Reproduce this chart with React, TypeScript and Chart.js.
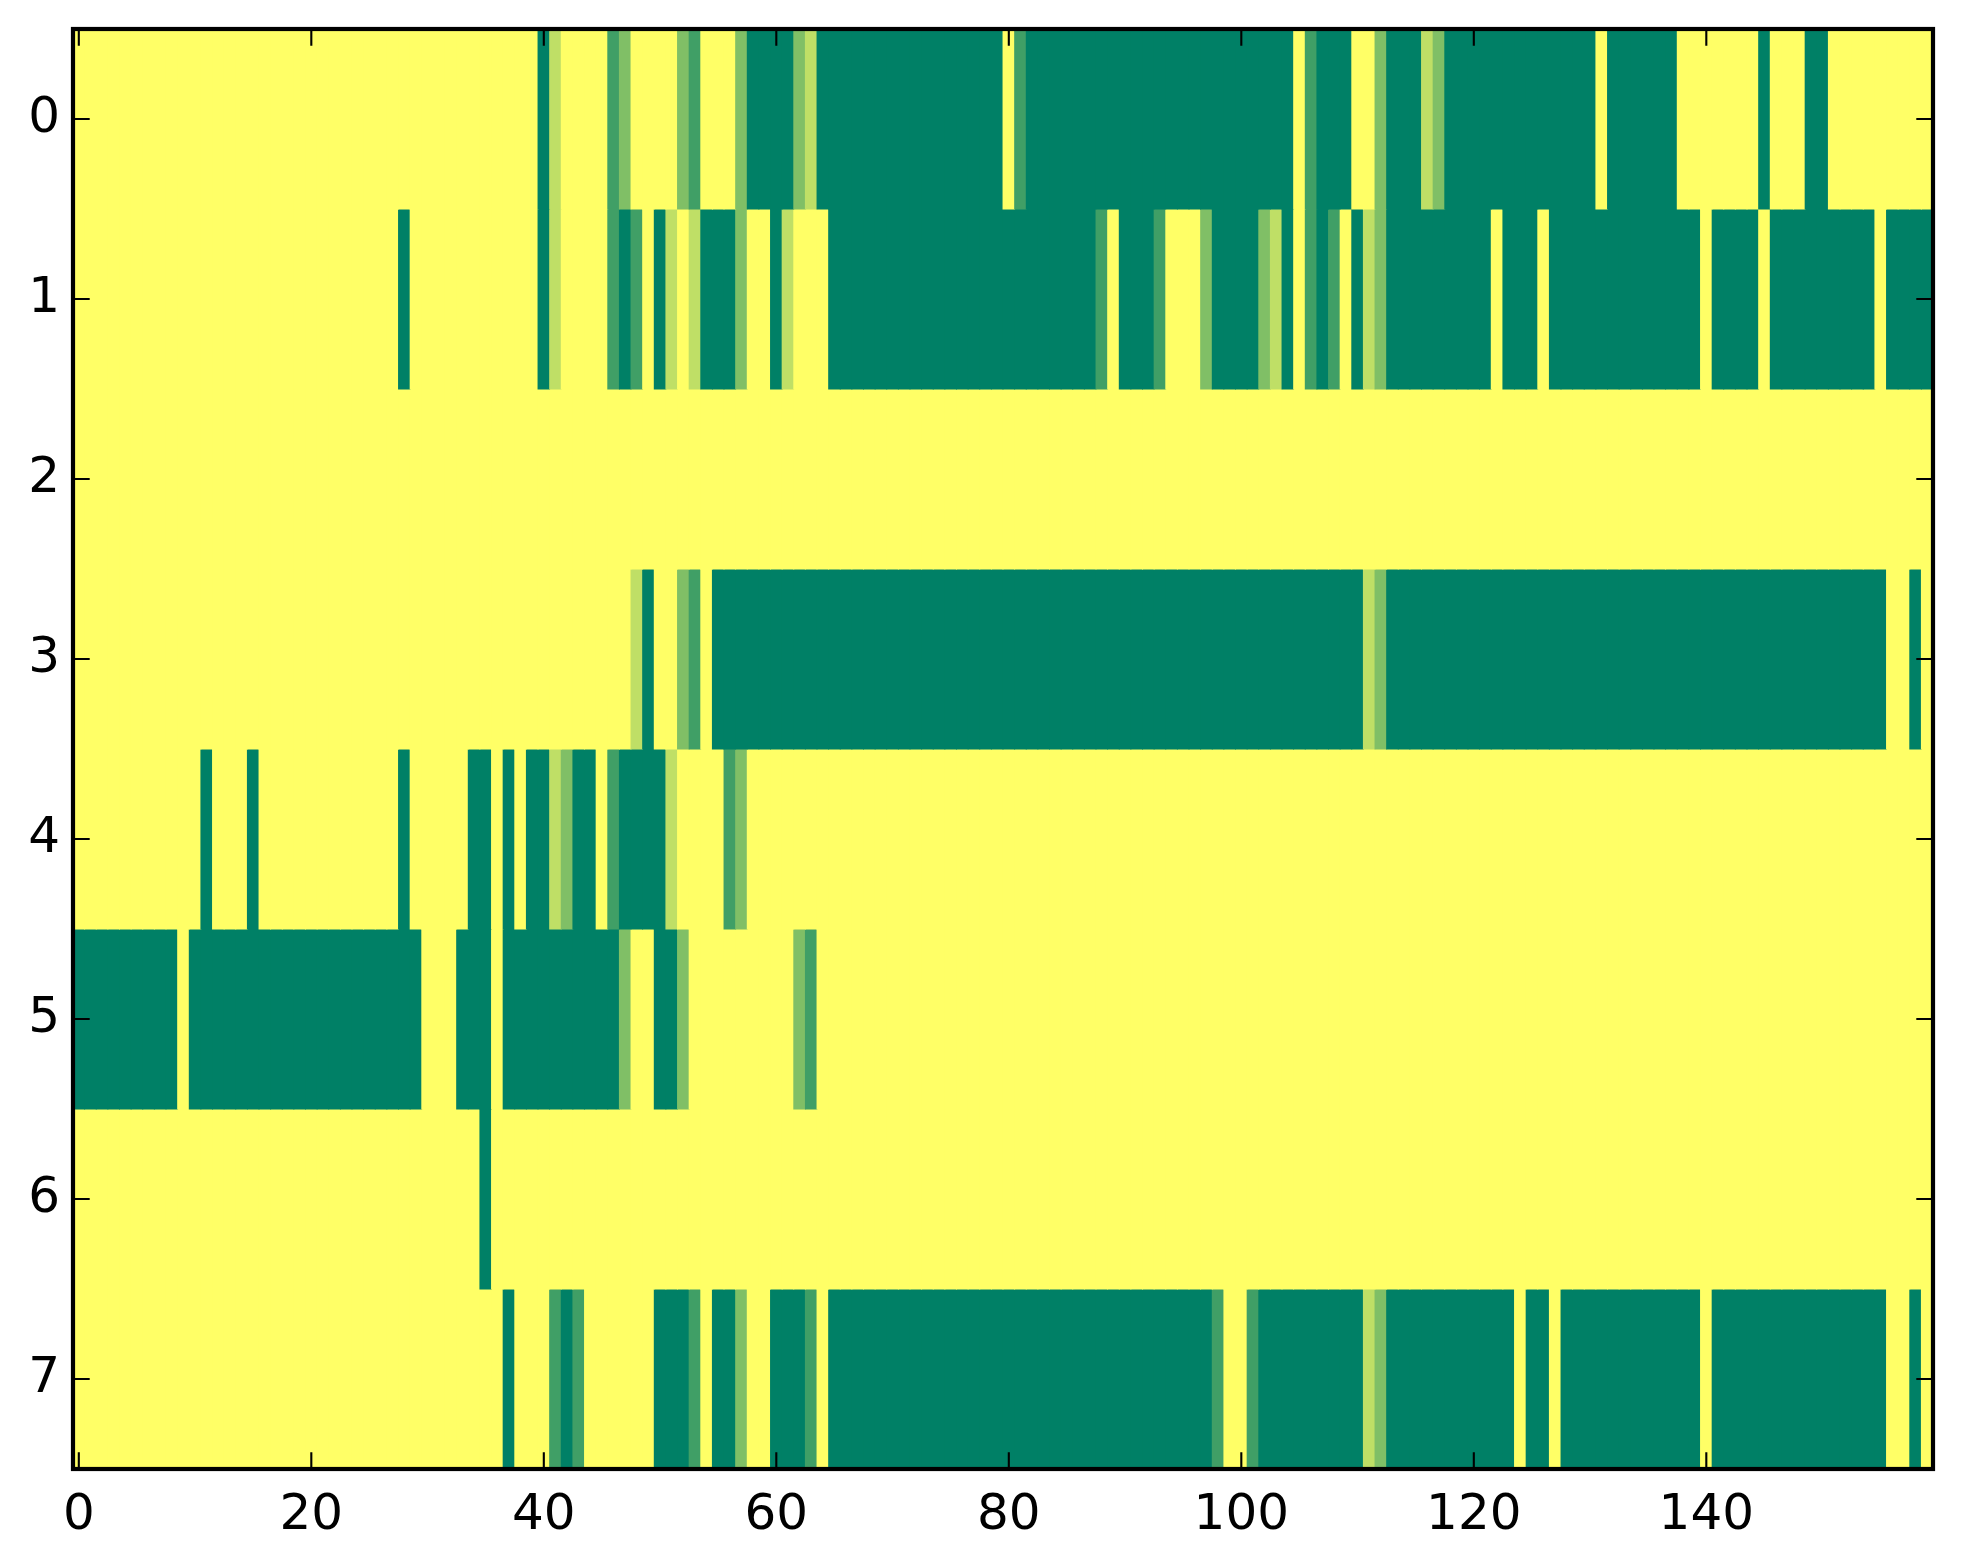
import { useEffect, useRef } from 'react';
import { Chart, registerables } from 'chart.js';

Chart.register(...registerables);

// Row labels (y axis) and x tick values
const Y_LABELS = ['0', '1', '2', '3', '4', '5', '6', '7'];
const X_TICKS = [0, 20, 40, 60, 80, 100, 120, 140];

// Cell values per row (160 columns each), colour-mapped with matplotlib "summer"
const ROW_0 = [
  1, 1, 1, 1, 1, 1, 1, 1, 1, 1, 1, 1, 1, 1, 1, 1, 1, 1, 1, 1,
  1, 1, 1, 1, 1, 1, 1, 1, 1, 1, 1, 1, 1, 1, 1, 1, 1, 1, 1, 1,
  0, .75, 1, 1, 1, 1, .25, .5, 1, 1, 1, 1, .5, .25, 1, 1, 1, .5, 0, 0,
  0, 0, .5, .75, 0, 0, 0, 0, 0, 0, 0, 0, 0, 0, 0, 0, 0, 0, 0, 0,
  1, .25, 0, 0, 0, 0, 0, 0, 0, 0, 0, 0, 0, 0, 0, 0, 0, 0, 0, 0,
  0, 0, 0, 0, 0, 1, .25, 0, 0, 0, 1, 1, .5, 0, 0, 0, .75, .5, 0, 0,
  0, 0, 0, 0, 0, 0, 0, 0, 0, 0, 0, 1, 0, 0, 0, 0, 0, 0, 1, 1,
  1, 1, 1, 1, 1, 0, 1, 1, 1, 0, 0, 1, 1, 1, 1, 1, 1, 1, 1, 1,
];
const ROW_1 = [
  1, 1, 1, 1, 1, 1, 1, 1, 1, 1, 1, 1, 1, 1, 1, 1, 1, 1, 1, 1,
  1, 1, 1, 1, 1, 1, 1, 1, 0, 1, 1, 1, 1, 1, 1, 1, 1, 1, 1, 1,
  0, .75, 1, 1, 1, 1, .25, 0, .25, 1, 0, .75, 1, .75, 0, 0, 0, .5, 1, 1,
  0, .75, 1, 1, 1, 0, 0, 0, 0, 0, 0, 0, 0, 0, 0, 0, 0, 0, 0, 0,
  0, 0, 0, 0, 0, 0, 0, 0, .25, 1, 0, 0, 0, .25, 1, 1, 1, .5, 0, 0,
  0, 0, .5, .75, 0, 1, .25, 0, .25, 1, 0, .75, .5, 0, 0, 0, 0, 0, 0, 0,
  0, 0, 1, 0, 0, 0, 1, 0, 0, 0, 0, 0, 0, 0, 0, 0, 0, 0, 0, 0,
  1, 0, 0, 0, 0, 1, 0, 0, 0, 0, 0, 0, 0, 0, 0, 1, 0, 0, 0, 0,
];
const ROW_2 = [
  1, 1, 1, 1, 1, 1, 1, 1, 1, 1, 1, 1, 1, 1, 1, 1, 1, 1, 1, 1,
  1, 1, 1, 1, 1, 1, 1, 1, 1, 1, 1, 1, 1, 1, 1, 1, 1, 1, 1, 1,
  1, 1, 1, 1, 1, 1, 1, 1, 1, 1, 1, 1, 1, 1, 1, 1, 1, 1, 1, 1,
  1, 1, 1, 1, 1, 1, 1, 1, 1, 1, 1, 1, 1, 1, 1, 1, 1, 1, 1, 1,
  1, 1, 1, 1, 1, 1, 1, 1, 1, 1, 1, 1, 1, 1, 1, 1, 1, 1, 1, 1,
  1, 1, 1, 1, 1, 1, 1, 1, 1, 1, 1, 1, 1, 1, 1, 1, 1, 1, 1, 1,
  1, 1, 1, 1, 1, 1, 1, 1, 1, 1, 1, 1, 1, 1, 1, 1, 1, 1, 1, 1,
  1, 1, 1, 1, 1, 1, 1, 1, 1, 1, 1, 1, 1, 1, 1, 1, 1, 1, 1, 1,
];
const ROW_3 = [
  1, 1, 1, 1, 1, 1, 1, 1, 1, 1, 1, 1, 1, 1, 1, 1, 1, 1, 1, 1,
  1, 1, 1, 1, 1, 1, 1, 1, 1, 1, 1, 1, 1, 1, 1, 1, 1, 1, 1, 1,
  1, 1, 1, 1, 1, 1, 1, 1, .75, 0, 1, 1, .5, .25, 1, 0, 0, 0, 0, 0,
  0, 0, 0, 0, 0, 0, 0, 0, 0, 0, 0, 0, 0, 0, 0, 0, 0, 0, 0, 0,
  0, 0, 0, 0, 0, 0, 0, 0, 0, 0, 0, 0, 0, 0, 0, 0, 0, 0, 0, 0,
  0, 0, 0, 0, 0, 0, 0, 0, 0, 0, 0, .75, .5, 0, 0, 0, 0, 0, 0, 0,
  0, 0, 0, 0, 0, 0, 0, 0, 0, 0, 0, 0, 0, 0, 0, 0, 0, 0, 0, 0,
  0, 0, 0, 0, 0, 0, 0, 0, 0, 0, 0, 0, 0, 0, 0, 0, 1, 1, 0, 1,
];
const ROW_4 = [
  1, 1, 1, 1, 1, 1, 1, 1, 1, 1, 1, 0, 1, 1, 1, 0, 1, 1, 1, 1,
  1, 1, 1, 1, 1, 1, 1, 1, 0, 1, 1, 1, 1, 1, 0, 0, 1, 0, 1, 0,
  0, .75, .5, 0, 0, 1, .25, 0, 0, 0, 0, .75, 1, 1, 1, 1, .25, .5, 1, 1,
  1, 1, 1, 1, 1, 1, 1, 1, 1, 1, 1, 1, 1, 1, 1, 1, 1, 1, 1, 1,
  1, 1, 1, 1, 1, 1, 1, 1, 1, 1, 1, 1, 1, 1, 1, 1, 1, 1, 1, 1,
  1, 1, 1, 1, 1, 1, 1, 1, 1, 1, 1, 1, 1, 1, 1, 1, 1, 1, 1, 1,
  1, 1, 1, 1, 1, 1, 1, 1, 1, 1, 1, 1, 1, 1, 1, 1, 1, 1, 1, 1,
  1, 1, 1, 1, 1, 1, 1, 1, 1, 1, 1, 1, 1, 1, 1, 1, 1, 1, 1, 1,
];
const ROW_5 = [
  0, 0, 0, 0, 0, 0, 0, 0, 0, 1, 0, 0, 0, 0, 0, 0, 0, 0, 0, 0,
  0, 0, 0, 0, 0, 0, 0, 0, 0, 0, 1, 1, 1, 0, 0, 0, 1, 0, 0, 0,
  0, 0, 0, 0, 0, 0, 0, .5, 1, 1, 0, 0, .5, 1, 1, 1, 1, 1, 1, 1,
  1, 1, .5, .25, 1, 1, 1, 1, 1, 1, 1, 1, 1, 1, 1, 1, 1, 1, 1, 1,
  1, 1, 1, 1, 1, 1, 1, 1, 1, 1, 1, 1, 1, 1, 1, 1, 1, 1, 1, 1,
  1, 1, 1, 1, 1, 1, 1, 1, 1, 1, 1, 1, 1, 1, 1, 1, 1, 1, 1, 1,
  1, 1, 1, 1, 1, 1, 1, 1, 1, 1, 1, 1, 1, 1, 1, 1, 1, 1, 1, 1,
  1, 1, 1, 1, 1, 1, 1, 1, 1, 1, 1, 1, 1, 1, 1, 1, 1, 1, 1, 1,
];
const ROW_6 = [
  1, 1, 1, 1, 1, 1, 1, 1, 1, 1, 1, 1, 1, 1, 1, 1, 1, 1, 1, 1,
  1, 1, 1, 1, 1, 1, 1, 1, 1, 1, 1, 1, 1, 1, 1, 0, 1, 1, 1, 1,
  1, 1, 1, 1, 1, 1, 1, 1, 1, 1, 1, 1, 1, 1, 1, 1, 1, 1, 1, 1,
  1, 1, 1, 1, 1, 1, 1, 1, 1, 1, 1, 1, 1, 1, 1, 1, 1, 1, 1, 1,
  1, 1, 1, 1, 1, 1, 1, 1, 1, 1, 1, 1, 1, 1, 1, 1, 1, 1, 1, 1,
  1, 1, 1, 1, 1, 1, 1, 1, 1, 1, 1, 1, 1, 1, 1, 1, 1, 1, 1, 1,
  1, 1, 1, 1, 1, 1, 1, 1, 1, 1, 1, 1, 1, 1, 1, 1, 1, 1, 1, 1,
  1, 1, 1, 1, 1, 1, 1, 1, 1, 1, 1, 1, 1, 1, 1, 1, 1, 1, 1, 1,
];
const ROW_7 = [
  1, 1, 1, 1, 1, 1, 1, 1, 1, 1, 1, 1, 1, 1, 1, 1, 1, 1, 1, 1,
  1, 1, 1, 1, 1, 1, 1, 1, 1, 1, 1, 1, 1, 1, 1, 1, 1, 0, 1, 1,
  1, .25, 0, .25, 1, 1, 1, 1, 1, 1, 0, 0, 0, .25, 1, 0, 0, .5, 1, 1,
  0, 0, 0, .25, 1, 0, 0, 0, 0, 0, 0, 0, 0, 0, 0, 0, 0, 0, 0, 0,
  0, 0, 0, 0, 0, 0, 0, 0, 0, 0, 0, 0, 0, 0, 0, 0, 0, 0, .25, 1,
  1, .25, 0, 0, 0, 0, 0, 0, 0, 0, 0, .75, .5, 0, 0, 0, 0, 0, 0, 0,
  0, 0, 0, 0, 1, 0, 0, 1, 0, 0, 0, 0, 0, 0, 0, 0, 0, 0, 0, 0,
  1, 0, 0, 0, 0, 0, 0, 0, 0, 0, 0, 0, 0, 0, 0, 0, 1, 1, 0, 1,
];

const ROWS = [ROW_0, ROW_1, ROW_2, ROW_3, ROW_4, ROW_5, ROW_6, ROW_7];

// matplotlib "summer" colormap: r = v, g = 0.5 + 0.5v, b = 0.4
function summer(v: number): string {
  const r = Math.round(255 * v);
  const g = Math.round(127.5 + 127.5 * v);
  return `rgb(${r},${g},102)`;
}

const W = 1963;
const H = 1564;
const FONT = { family: "'DejaVu Sans', 'Liberation Sans', sans-serif", size: 50 };

const framePlugin = {
  id: 'mplFrame',
  afterDatasetsDraw(chart: any) {
    const { ctx, chartArea: a, scales } = chart;
    const xs = scales.x;
    const ys = scales.y;
    const tl = 16.7;
    ctx.save();
    ctx.strokeStyle = '#000';
    ctx.lineWidth = 2.1;
    ctx.beginPath();
    X_TICKS.forEach((v) => {
      const px = xs.getPixelForValue(v);
      ctx.moveTo(px, a.bottom);
      ctx.lineTo(px, a.bottom - tl);
      ctx.moveTo(px, a.top);
      ctx.lineTo(px, a.top + tl);
    });
    Y_LABELS.forEach((_, i) => {
      const py = ys.getPixelForValue(i);
      ctx.moveTo(a.left, py);
      ctx.lineTo(a.left + tl, py);
      ctx.moveTo(a.right, py);
      ctx.lineTo(a.right - tl, py);
    });
    ctx.stroke();
    ctx.lineWidth = 4.2;
    ctx.strokeRect(a.left, a.top, a.right - a.left, a.bottom - a.top);
    ctx.restore();
  },
};

export default function App() {
  const canvasRef = useRef<HTMLCanvasElement | null>(null);

  useEffect(() => {
    document.body.style.margin = '0';
    const canvas = canvasRef.current;
    if (!canvas) return;

    const datasets = ROWS.map((row, r) => ({
      label: `row ${Y_LABELS[r]}`,
      data: row.map((_v, c) => ({ x: [c - 0.5, c + 0.5], y: Y_LABELS[r] })),
      backgroundColor: row.map(summer),
      borderWidth: 0,
      grouped: false,
      barPercentage: 1,
      categoryPercentage: 1,
      inflateAmount: 0.45,
    }));

    const chart = new Chart(canvas, {
      type: 'bar',
      data: { labels: Y_LABELS, datasets: datasets as any },
      options: {
        indexAxis: 'y',
        responsive: false,
        animation: false,
        devicePixelRatio: 1,
        layout: { padding: { top: 29, right: 30, left: 0, bottom: 0 } },
        plugins: {
          legend: { display: false },
          tooltip: { enabled: false },
        },
        scales: {
          x: {
            type: 'linear',
            min: -0.5,
            max: 159.5,
            grid: { display: false, drawTicks: false },
            border: { display: false },
            afterBuildTicks: (s: any) => {
              s.ticks = X_TICKS.map((v) => ({ value: v }));
            },
            afterFit: (s: any) => {
              s.height = 95;
              s.paddingLeft = 0;
              s.paddingRight = 0;
              s.paddingTop = 0;
              s.paddingBottom = 0;
            },
            ticks: {
              font: FONT,
              color: '#000',
              padding: 17,
              maxRotation: 0,
              autoSkip: false,
            },
          },
          y: {
            type: 'category',
            grid: { display: false, drawTicks: false },
            border: { display: false },
            afterFit: (s: any) => {
              s.width = 73;
              s.paddingTop = 0;
              s.paddingBottom = 0;
              s.paddingLeft = 0;
              s.paddingRight = 0;
            },
            ticks: {
              font: FONT,
              color: '#000',
              padding: 13,
              autoSkip: false,
            },
          },
        },
      } as any,
      plugins: [framePlugin],
    });

    return () => chart.destroy();
  }, []);

  return (
    <canvas
      ref={canvasRef}
      width={W}
      height={H}
      style={{ display: 'block', width: W, height: H }}
    />
  );
}
